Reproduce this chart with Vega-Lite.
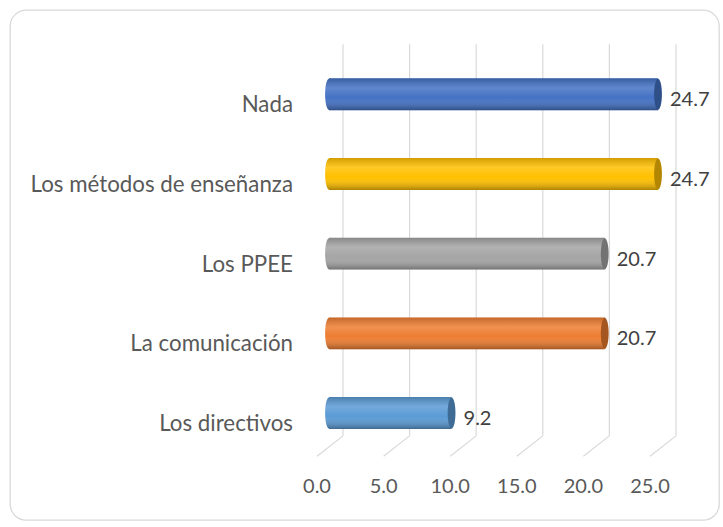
{
  "$schema": "https://vega.github.io/schema/vega-lite/v6.json",
  "width": 709,
  "height": 510,
  "autosize": {"type": "none"},
  "padding": {"left": 10, "top": 10, "right": 4, "bottom": 7},
  "background": "white",
  "config": {
    "view": {"stroke": "#d9d9d9", "strokeWidth": 1.3, "cornerRadius": 16, "fill": "white"},
    "font": "Lato"
  },
  "datasets": {
    "bars": [
      {"categoria": "Nada", "valor": 24.7},
      {"categoria": "Los métodos de enseñanza", "valor": 24.7},
      {"categoria": "Los PPEE", "valor": 20.7},
      {"categoria": "La comunicación", "valor": 20.7},
      {"categoria": "Los directivos", "valor": 9.2}
    ],
    "ticks": [
      {"valor": 0}, {"valor": 5}, {"valor": 10}, {"valor": 15}, {"valor": 20}, {"valor": 25}
    ]
  },
  "resolve": {"scale": {"y": "independent"}},
  "layer": [
    {
      "data": {"name": "ticks"},
      "layer": [
        {
          "mark": {"type": "rule", "color": "#d9d9d9", "strokeWidth": 1.2, "xOffset": 14},
          "encoding": {
            "x": {"field": "valor", "type": "quantitative",
                  "scale": {"domain": [-23.95, 29.28], "nice": false, "zero": false}, "axis": null},
            "y": {"datum": 0.933, "type": "quantitative", "scale": {"domain": [0, 1], "nice": false, "zero": false}, "axis": null},
            "y2": {"datum": 0.165}
          }
        },
        {
          "mark": {"type": "rule", "color": "#d9d9d9", "strokeWidth": 1.2, "xOffset": 14, "x2Offset": -12},
          "encoding": {
            "x": {"field": "valor", "type": "quantitative", "axis": null},
            "x2": {"field": "valor"},
            "y": {"datum": 0.165, "type": "quantitative", "axis": null},
            "y2": {"datum": 0.125}
          }
        },
        {
          "mark": {"type": "text", "align": "center", "baseline": "middle", "xOffset": -12, "fontSize": 20, "color": "#595959", "font": "Lato"},
          "encoding": {
            "x": {"field": "valor", "type": "quantitative", "axis": null},
            "y": {"datum": 0.065, "type": "quantitative", "axis": null},
            "text": {"field": "valor", "type": "quantitative", "format": ".1f"}
          }
        }
      ]
    },
    {
      "data": {"name": "bars"},
      "encoding": {
        "y": {"field": "categoria", "type": "nominal",
              "sort": ["Nada", "Los métodos de enseñanza", "Los PPEE", "La comunicación", "Los directivos"],
              "scale": {"paddingInner": 0.6, "paddingOuter": 1.09, "align": 0.429},
              "axis": null}
      },
      "layer": [
        {
          "mark": {"type": "point", "shape": "M0,-1 A0.25,1 0 1,1 0,1 A0.25,1 0 1,1 0,-1 Z", "filled": true, "size": 961, "opacity": 1, "strokeWidth": 0},
          "encoding": {
            "x": {"datum": 0, "type": "quantitative", "axis": null},
            "color": {"field": "categoria", "type": "nominal", "legend": null,
                      "scale": {"domain": ["Nada", "Los métodos de enseñanza", "Los PPEE", "La comunicación", "Los directivos"],
                                "range": ["#4472C4", "#FFC000", "#A5A5A5", "#ED7D31", "#5B9BD5"]}}
          }
        },
        {
          "mark": {"type": "point", "shape": "M0,-1 A0.25,1 0 1,1 0,1 A0.25,1 0 1,1 0,-1 Z", "filled": true, "size": 961, "opacity": 1, "strokeWidth": 0,
                   "fill": {"gradient": "linear", "x1": 0, "y1": 0, "x2": 0, "y2": 1,
                            "stops": [{"offset": 0, "color": "rgba(0,0,0,0.18)"}, {"offset": 0.3, "color": "rgba(255,255,255,0.15)"}, {"offset": 0.6, "color": "rgba(255,255,255,0)"}, {"offset": 1, "color": "rgba(0,0,0,0.32)"}]}},
          "encoding": {
            "x": {"datum": 0, "type": "quantitative", "axis": null}
          }
        },
        {
          "mark": {"type": "bar"},
          "encoding": {
            "x": {"field": "valor", "type": "quantitative", "axis": null},
            "color": {"field": "categoria", "type": "nominal", "legend": null}
          }
        },
        {
          "mark": {"type": "bar",
                   "fill": {"gradient": "linear", "x1": 0, "y1": 0, "x2": 0, "y2": 1,
                            "stops": [{"offset": 0, "color": "rgba(0,0,0,0.18)"}, {"offset": 0.3, "color": "rgba(255,255,255,0.15)"}, {"offset": 0.6, "color": "rgba(255,255,255,0)"}, {"offset": 1, "color": "rgba(0,0,0,0.32)"}]}},
          "encoding": {
            "x": {"field": "valor", "type": "quantitative", "axis": null}
          }
        },
        {
          "mark": {"type": "point", "shape": "M0,-1 A0.25,1 0 1,1 0,1 A0.25,1 0 1,1 0,-1 Z", "filled": true, "size": 961, "opacity": 1, "strokeWidth": 0},
          "encoding": {
            "x": {"field": "valor", "type": "quantitative", "axis": null},
            "color": {"field": "categoria", "type": "nominal", "legend": null}
          }
        },
        {
          "mark": {"type": "point", "shape": "M0,-1 A0.25,1 0 1,1 0,1 A0.25,1 0 1,1 0,-1 Z", "filled": true, "size": 961, "opacity": 1, "strokeWidth": 0, "fill": "rgba(0,0,0,0.3)"},
          "encoding": {
            "x": {"field": "valor", "type": "quantitative", "axis": null}
          }
        },
        {
          "mark": {"type": "text", "align": "left", "baseline": "middle", "dx": 12, "dy": 6, "fontSize": 20, "color": "#404040", "font": "Lato"},
          "encoding": {
            "x": {"field": "valor", "type": "quantitative", "axis": null},
            "text": {"field": "valor", "type": "quantitative", "format": ".1f"}
          }
        },
        {
          "mark": {"type": "text", "align": "right", "baseline": "middle", "dx": -36, "dy": 11, "fontSize": 22.3, "color": "#595959", "font": "Lato"},
          "encoding": {
            "x": {"datum": 0, "type": "quantitative", "axis": null},
            "text": {"field": "categoria", "type": "nominal"}
          }
        }
      ]
    }
  ]
}
